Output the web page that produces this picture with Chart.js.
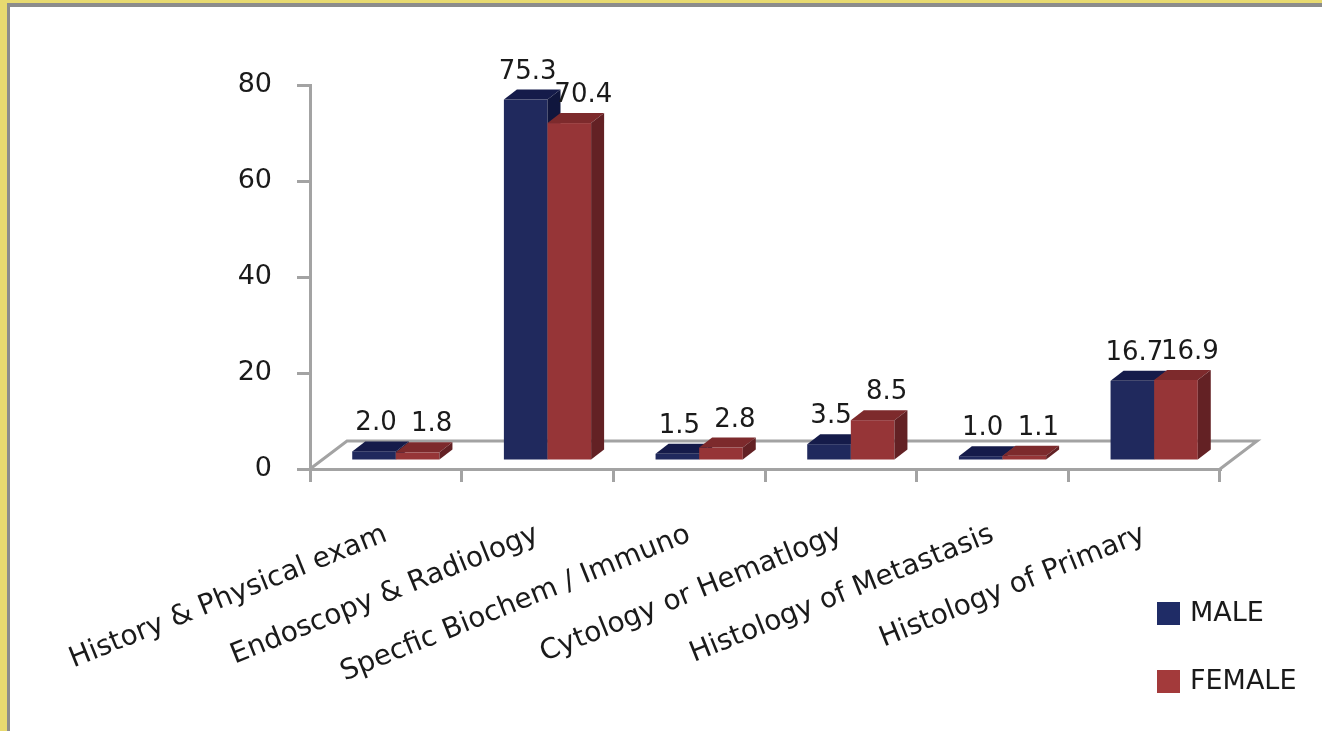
<!DOCTYPE html>
<html>
<head>
<meta charset="utf-8">
<script src="https://cdn.jsdelivr.net/npm/chart.js@4/dist/chart.umd.min.js"></script>
<style>
body { margin: 0; }
#frame { position: relative; width: 1322px; height: 731px; background: #e8da70; overflow: hidden; }
#sheet { position: absolute; left: 7px; top: 3px; right: 0; bottom: -10px; background: #fff;
         border-top: 4px solid #8c8c8c; border-left: 3px solid #8c8c8c; }
#wrap { position: absolute; left: 0; top: 0; width: 1322px; height: 731px; }
</style>
</head>
<body>
<div id="frame">
  <div id="sheet"></div>
  <div id="wrap"><canvas id="diagChart"></canvas></div>
</div>
<script>
var categories = ["History & Physical exam", "Endoscopy & Radiology", "Specfic Biochem / Immuno",
                  "Cytology or Hematlogy", "Histology of Metastasis", "Histology of Primary"];
var maleValues = [2.0, 75.3, 1.5, 3.5, 1.0, 16.7];
var femaleValues = [1.8, 70.4, 2.8, 8.5, 1.1, 16.9];
var seriesNames = ["MALE", "FEMALE"];
var yTicks = [0, 20, 40, 60, 80];

var axisGray = "#a3a3a3";
var fontName = "'DejaVu Sans', sans-serif";
// front / top / side colours of each series
var faceColors = [
    { front: "#20295d", top: "#151b4a", side: "#10163d", legend: "#1f2c66" },
    { front: "#963537", top: "#7d2a2c", side: "#632124", legend: "#a33a3b" }
];

// fake 3D: bars sit a bit behind the front edge of the floor
var shiftX = 10, shiftY = -8;
var depthX = 13, depthY = -10;
var floorX = 37, floorY = -28;

var bar3d = {
    id: 'bar3d',
    beforeDatasetsDraw: function(chart) {
        var ctx = chart.ctx, area = chart.chartArea;
        var yZero = chart.scales.y.getPixelForValue(0);
        ctx.save();
        // floor
        ctx.strokeStyle = axisGray;
        ctx.lineWidth = 3;
        ctx.beginPath();
        ctx.moveTo(area.left, yZero);
        ctx.lineTo(area.left + floorX, yZero + floorY);
        ctx.lineTo(area.right + floorX, yZero + floorY);
        ctx.lineTo(area.right, yZero);
        ctx.stroke();

        var metas = [chart.getDatasetMeta(0), chart.getDatasetMeta(1)];
        var labels = [];
        for (var i = 0; i < categories.length; i++) {
            for (var d = 0; d < metas.length; d++) {
                var p = metas[d].data[i].getProps(['x', 'y', 'base', 'width'], true);
                var l = p.x - p.width / 2 + shiftX, r = p.x + p.width / 2 + shiftX;
                var t = p.y + shiftY, b = p.base + shiftY;
                var c = faceColors[d];
                ctx.fillStyle = c.front;
                ctx.fillRect(l, t, r - l, b - t);
                ctx.fillStyle = c.top;
                ctx.beginPath();
                ctx.moveTo(l, t); ctx.lineTo(l + depthX, t + depthY);
                ctx.lineTo(r + depthX, t + depthY); ctx.lineTo(r, t);
                ctx.closePath(); ctx.fill();
                ctx.fillStyle = c.side;
                ctx.beginPath();
                ctx.moveTo(r, t); ctx.lineTo(r + depthX, t + depthY);
                ctx.lineTo(r + depthX, b + depthY); ctx.lineTo(r, b);
                ctx.closePath(); ctx.fill();
                var v = chart.data.datasets[d].data[i];
                labels.push({ text: v.toFixed(1), x: (l + r) / 2 + (d ? 14 : 2), y: t - 21 });
            }
        }
        ctx.fillStyle = "#1a1a1a";
        ctx.font = "26px " + fontName;
        ctx.textAlign = "center";
        ctx.textBaseline = "alphabetic";
        labels.forEach(function(lb) { ctx.fillText(lb.text, lb.x, lb.y); });
        ctx.restore();
        return false;
    },
    afterDraw: function(chart) {
        var ctx = chart.ctx;
        ctx.save();
        ctx.font = "27px " + fontName;
        ctx.textBaseline = "middle";
        ctx.textAlign = "left";
        for (var d = 0; d < seriesNames.length; d++) {
            var y = 602 + d * 68;
            ctx.fillStyle = faceColors[d].legend;
            ctx.fillRect(1157, y, 23, 23);
            ctx.fillStyle = "#1a1a1a";
            ctx.fillText(seriesNames[d], 1190, y + 12);
        }
        ctx.restore();
    }
};

new Chart(document.querySelector("#diagChart"), {
    type: 'bar',
    data: {
        labels: categories,
        datasets: [
            { label: seriesNames[0], data: maleValues, backgroundColor: faceColors[0].front },
            { label: seriesNames[1], data: femaleValues, backgroundColor: faceColors[1].front }
        ]
    },
    options: {
        responsive: true,
        maintainAspectRatio: false,
        animation: false,
        datasets: { bar: { categoryPercentage: 0.575, barPercentage: 1 } },
        layout: { padding: { left: 0, top: 85, right: 102, bottom: 0 } },
        plugins: { legend: { display: false }, tooltip: { enabled: false } },
        scales: {
            x: {
                grid: { offset: true, drawOnChartArea: false, tickLength: 13, color: axisGray, lineWidth: 3 },
                border: { color: axisGray, width: 3 },
                ticks: { minRotation: 22, maxRotation: 22, padding: 36, color: "#1a1a1a",
                         font: { family: fontName, size: 28 } },
                afterFit: function(scale) { scale.height = 262; }
            },
            y: {
                min: yTicks[0],
                max: yTicks[yTicks.length - 1],
                afterBuildTicks: function(scale) {
                    scale.ticks = yTicks.map(function(v) { return { value: v }; });
                },
                grid: { drawOnChartArea: false, tickLength: 13, color: axisGray, lineWidth: 3 },
                border: { color: axisGray, width: 3 },
                ticks: { padding: 25, color: "#1a1a1a", font: { family: fontName, size: 27 } },
                afterFit: function(scale) { scale.width = 310; }
            }
        }
    },
    plugins: [bar3d]
});
</script>
</body>
</html>
